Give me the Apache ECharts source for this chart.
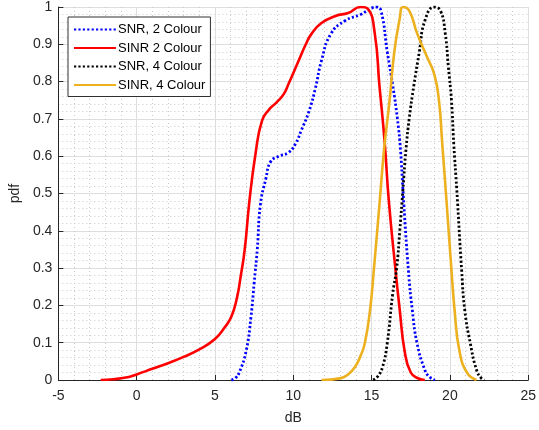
<!DOCTYPE html>
<html>
<head>
<meta charset="utf-8">
<script src="https://cdn.jsdelivr.net/npm/echarts@6/dist/echarts.min.js"></script>
<style>
    html, body { margin: 0; padding: 0; background: #fff; }
    #chart { width: 539px; height: 430px; }
</style>
</head>
<body>
<div id="chart"></div>
<script>
// x ticks and y ticks
var xTicks = [-5, 0, 5, 10, 15, 20, 25];
var yTicks = [0, 0.1, 0.2, 0.3, 0.4, 0.5, 0.6, 0.7, 0.8, 0.9, 1];

var seriesNames = ['SNR, 2 Colour', 'SINR 2 Colour', 'SNR, 4 Colour', 'SINR, 4 Colour'];

// [dB, pdf]
var snr2 = [[6.05, 0], [6.3, 0.005], [6.55, 0.02], [7.0, 0.08], [7.3, 0.17], [7.5, 0.26], [7.7, 0.35],
    [7.9, 0.47], [8.25, 0.54], [8.55, 0.585], [9.08, 0.6], [9.7, 0.61], [10.15, 0.634], [10.5, 0.668],
    [11.0, 0.72], [11.4, 0.78], [11.8, 0.856], [12.4, 0.928], [13.3, 0.963], [14.3, 0.98], [15.0, 0.997],
    [15.3, 1.0], [15.6, 0.99], [16.0, 0.88], [16.35, 0.79], [16.65, 0.70], [16.85, 0.615], [17.0, 0.51],
    [17.35, 0.294], [17.6, 0.187], [17.9, 0.099], [18.4, 0.027], [18.7, 0.008], [19.05, 0]];

var sinr2 = [[-2.3, 0], [-1.5, 0.002], [-0.5, 0.008], [0, 0.015], [1, 0.03], [2, 0.045], [3, 0.062],
    [4, 0.082], [5, 0.11], [5.6, 0.14], [6.05, 0.17], [6.4, 0.22], [6.65, 0.28], [6.9, 0.35], [7.2, 0.48],
    [7.6, 0.61], [8.0, 0.695], [8.45, 0.725], [8.95, 0.745], [9.4, 0.767], [9.7, 0.794], [10.34, 0.856],
    [10.8, 0.9], [11.16, 0.928], [11.8, 0.957], [12.7, 0.976], [13.5, 0.984], [14.3, 1.0], [14.76, 0.995],
    [15.2, 0.93], [15.5, 0.79], [15.83, 0.64], [16.1, 0.48], [16.53, 0.294], [16.8, 0.187], [17.1, 0.08],
    [17.5, 0.02], [18.0, 0.004], [18.4, 0]];

var snr4 = [[15.1, 0], [15.4, 0.01], [15.7, 0.035], [16.0, 0.099], [16.35, 0.232], [16.6, 0.3],
    [16.8, 0.40], [17.0, 0.51], [17.2, 0.62], [17.4, 0.70], [17.7, 0.79], [18.05, 0.88], [18.4, 0.963],
    [19.0, 1.0], [19.4, 0.99], [19.7, 0.93], [19.9, 0.84], [20.1, 0.75], [20.25, 0.63], [20.44, 0.51],
    [20.75, 0.294], [20.95, 0.187], [21.3, 0.099], [21.7, 0.027], [22.0, 0.005], [22.2, 0]];

var sinr4 = [[11.8, 0], [13.05, 0.005], [13.5, 0.015], [13.94, 0.035], [14.3, 0.065], [14.57, 0.099],
    [14.9, 0.187], [15.14, 0.294], [15.5, 0.47], [15.8, 0.62], [16.15, 0.75], [16.45, 0.88], [16.8, 0.97],
    [17.0, 1.0], [17.4, 0.99], [17.9, 0.93], [18.55, 0.865], [19.0, 0.82], [19.3, 0.75], [19.5, 0.64],
    [19.8, 0.47], [20.1, 0.294], [20.3, 0.187], [20.6, 0.08], [21.1, 0.019], [21.7, 0]];

var font = 'Liberation Sans, Arial, Helvetica, sans-serif';
var axisColor = '#262626';

var chart = echarts.init(document.getElementById('chart'));

function makeLine (name, data, color, dotted) {
    return {
        name: name,
        type: 'line',
        data: data,
        showSymbol: false,
        symbol: 'none',
        smooth: 0.5,
        lineStyle: dotted
            ? { color: color, width: 2.8, type: [2.2, 2.2] }
            : { color: color, width: 2.6 },
        itemStyle: { color: color },
        z: 3
    };
}

function axisBase () {
    return {
        axisLine: { show: true, onZero: false, lineStyle: { color: axisColor, width: 1 } },
        axisTick: { show: true, inside: true, length: 5, lineStyle: { color: axisColor } },
        axisLabel: { color: axisColor, fontSize: 14, fontFamily: font },
        splitLine: { show: true, lineStyle: { color: '#dedede', width: 1 } },
        minorTick: { show: false, splitNumber: 5 },
        minorSplitLine: { show: true, lineStyle: { color: '#c8c8c8', width: 1, type: [1, 3] } },
        nameTextStyle: { color: axisColor, fontSize: 14, fontFamily: font }
    };
}

var xAxis = Object.assign(axisBase(), {
    type: 'value',
    min: xTicks[0],
    max: xTicks[xTicks.length - 1],
    interval: 5,
    name: 'dB',
    nameLocation: 'middle',
    nameGap: 31
});
xAxis.axisLabel.margin = 9;

var yAxis = Object.assign(axisBase(), {
    type: 'value',
    min: yTicks[0],
    max: yTicks[yTicks.length - 1],
    interval: 0.1,
    name: 'pdf',
    nameLocation: 'middle',
    nameGap: 30
});
yAxis.axisLabel.margin = 6;
yAxis.axisLabel.formatter = function (v) { return String(Math.round(v * 10) / 10); };

var option = {
    animation: false,
    backgroundColor: '#ffffff',
    grid: { left: 57, right: 7, top: 6, bottom: 50 },
    xAxis: xAxis,
    yAxis: yAxis,
    legend: {
        orient: 'vertical',
        left: 68,
        top: 17,
        data: seriesNames,
        itemWidth: 42,
        itemHeight: 12,
        itemGap: 5.5,
        padding: [6, 5, 5, 5],
        backgroundColor: '#ffffff',
        borderColor: '#303030',
        borderWidth: 1,
        borderRadius: 0,
        itemStyle: { opacity: 0 },
        textStyle: { color: '#000', fontSize: 13, fontFamily: font, padding: [0, 0, 0, -3] }
    },
    series: [
        makeLine(seriesNames[0], snr2, '#0000ff', true),
        makeLine(seriesNames[1], sinr2, '#ff0000', false),
        makeLine(seriesNames[2], snr4, '#000000', true),
        makeLine(seriesNames[3], sinr4, '#edb120', false)
    ]
};

chart.setOption(option);
</script>
</body>
</html>
